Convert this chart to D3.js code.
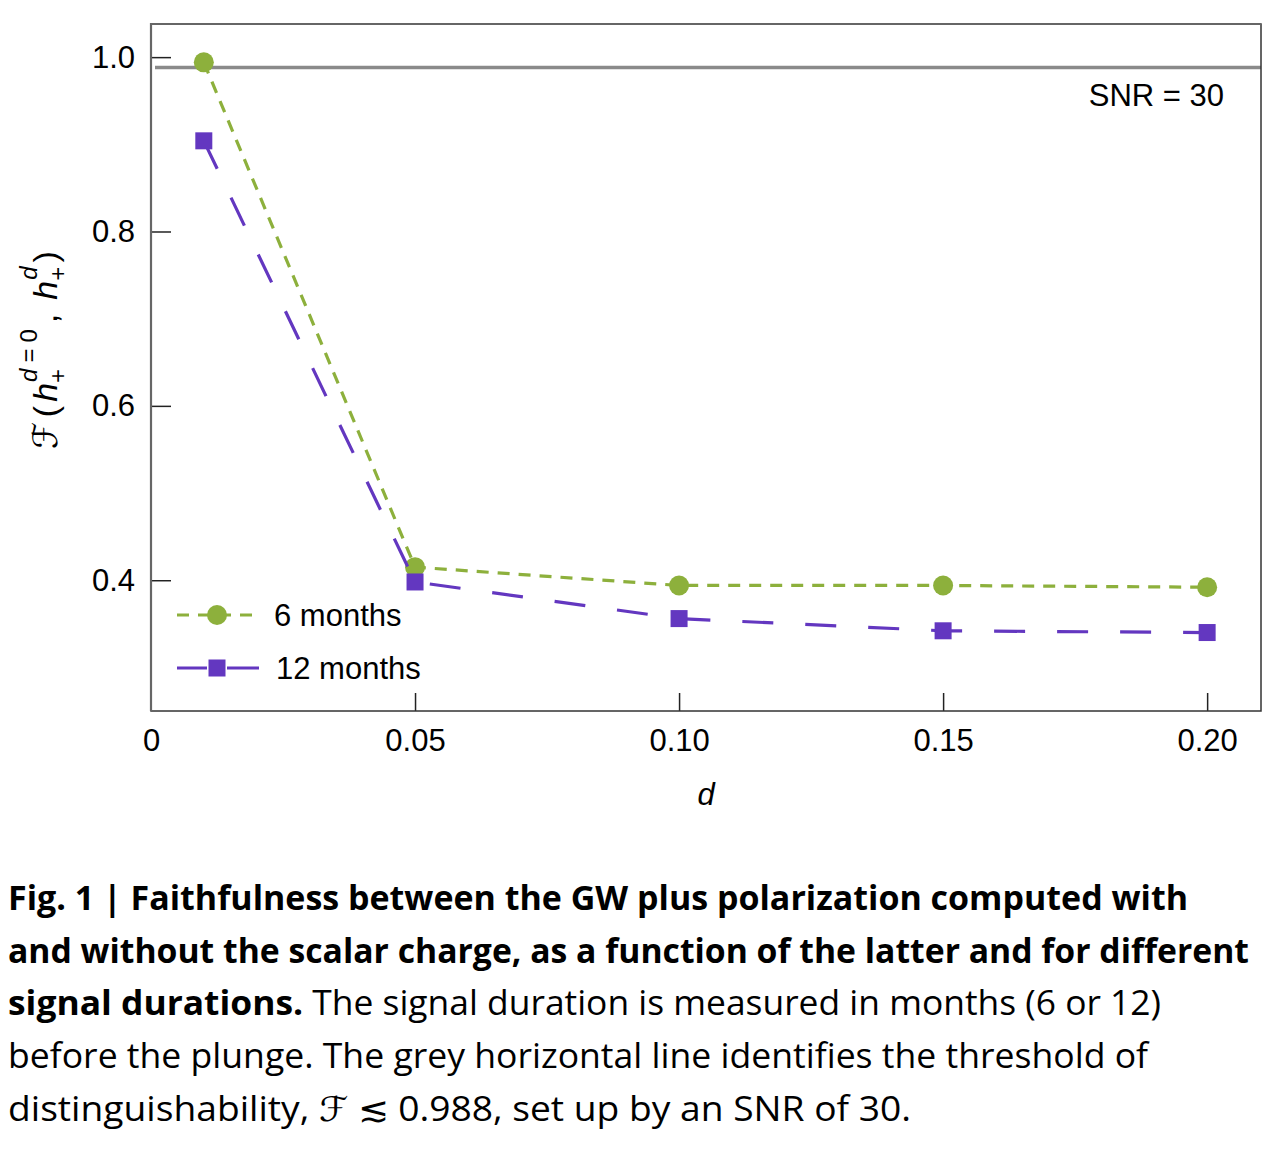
<!DOCTYPE html>
<html>
<head>
<meta charset="utf-8">
<script src="https://cdn.jsdelivr.net/npm/d3@7"></script>
<style>
  body { margin: 0; background: #fff; }
  svg { display: block; }
</style>
</head>
<body>
<div id="app"></div>
<script>
const durations = ["6 months", "12 months"];
const dValues = [0.01, 0.05, 0.10, 0.15, 0.20];
const faith6 = [0.994, 0.415, 0.394, 0.394, 0.392];
const faith12 = [0.904, 0.398, 0.356, 0.342, 0.340];
const threshold = 0.988;
const xTicks = [0, 0.05, 0.10, 0.15, 0.20];
const xTickLabels = ["0", "0.05", "0.10", "0.15", "0.20"];
const yTicks = [0.4, 0.6, 0.8, 1.0];

const width = 1278, height = 1160;
const plotLeft = 151, plotRight = 1261, plotTop = 24, plotBottom = 711;
const green = "#8db03c", purple = "#6337c0";
const axisFont = "'Liberation Sans', Arial, Helvetica, sans-serif";
const axisSize = 31;

const svg = d3.create("svg")
  .attr("width", width)
  .attr("height", height)
  .attr("viewBox", [0, 0, width, height]);

const x = d3.scaleLinear().domain([0, 0.2102]).range([plotLeft, plotRight]);
const y = d3.scaleLinear().domain([0.25, 1.038]).range([plotBottom, plotTop]);

// threshold line
svg.append("line")
  .attr("x1", plotLeft + 4).attr("x2", plotRight)
  .attr("y1", y(threshold)).attr("y2", y(threshold))
  .attr("stroke", "#8a8a8a").attr("stroke-width", 3.5);

// axes
const xAxis = svg.append("g")
  .attr("transform", `translate(0,${plotBottom})`)
  .call(d3.axisBottom(x).tickValues(xTicks).tickFormat((d, i) => xTickLabels[i])
    .tickSize(-18).tickPadding(18));
xAxis.select(".domain").remove();
xAxis.selectAll(".tick line").filter(d => d === 0).remove();
xAxis.selectAll("text").attr("font-size", axisSize).attr("font-family", axisFont).attr("fill", "#000");

const yAxis = svg.append("g")
  .attr("transform", `translate(${plotLeft},0)`)
  .call(d3.axisLeft(y).tickValues(yTicks).tickFormat(d3.format(".1f"))
    .tickSize(-20).tickPadding(16));
yAxis.select(".domain").remove();
yAxis.selectAll("text").attr("font-size", axisSize).attr("font-family", axisFont).attr("fill", "#000");
svg.selectAll(".tick line").attr("stroke", "#222").attr("stroke-width", 1.5);

// frame
svg.append("rect")
  .attr("x", plotLeft).attr("y", plotTop)
  .attr("width", plotRight - plotLeft).attr("height", plotBottom - plotTop)
  .attr("fill", "none").attr("stroke", "#333").attr("stroke-width", 1.5);
svg.append("path")
  .attr("d", `M${plotLeft},${plotBottom}V${plotTop}H${plotRight}`)
  .attr("fill", "none").attr("stroke", "#666").attr("stroke-width", 2.2);

// series
const line = d3.line().x(d => x(d[0])).y(d => y(d[1]));
const series = [
  { name: durations[0], values: faith6, color: green, dash: "12,9", shape: "circle" },
  { name: durations[1], values: faith12, color: purple, dash: "31,32", shape: "square" }
];

function marker(g, s, cx, cy) {
  if (s.shape === "circle") {
    g.append("circle").attr("cx", cx).attr("cy", cy).attr("r", 10).attr("fill", s.color);
  } else {
    g.append("rect").attr("x", cx - 8.5).attr("y", cy - 8.5)
      .attr("width", 17).attr("height", 17).attr("fill", s.color);
  }
}

series.forEach(s => {
  const pts = dValues.map((d, i) => [d, s.values[i]]);
  svg.append("path")
    .attr("d", line(pts))
    .attr("fill", "none")
    .attr("stroke", s.color)
    .attr("stroke-width", 3.2)
    .attr("stroke-dasharray", s.dash);
  const g = svg.append("g");
  pts.forEach(p => marker(g, s, x(p[0]), y(p[1])));
});

// legend
series.forEach((s, i) => {
  const ly = 615 + i * 53;
  const g = svg.append("g");
  g.append("line")
    .attr("x1", 177).attr("x2", 259).attr("y1", ly).attr("y2", ly)
    .attr("stroke", s.color).attr("stroke-width", 3.2)
    .attr("stroke-dasharray", i === 0 ? "12,9" : "30,20,32");
  marker(g, s, 217, ly);
  g.append("text")
    .attr("x", 274 + i * 2).attr("y", ly + 11)
    .attr("font-family", axisFont).attr("font-size", axisSize)
    .text(s.name);
});

svg.append("text")
  .attr("x", 1224).attr("y", 106)
  .attr("text-anchor", "end")
  .attr("font-family", axisFont).attr("font-size", axisSize)
  .text("SNR = 30");

// x label
svg.append("text")
  .attr("x", 706).attr("y", 805)
  .attr("text-anchor", "middle")
  .attr("font-family", axisFont).attr("font-size", axisSize)
  .attr("font-style", "italic")
  .text("d");

// y label
const yl = svg.append("text")
  .attr("transform", "translate(57,350) rotate(-90)")
  .attr("text-anchor", "middle")
  .attr("font-family", axisFont).attr("font-size", 34);
yl.append("tspan").attr("font-family", "'DejaVu Sans', sans-serif").attr("font-style", "italic").text("ℱ");
yl.append("tspan").attr("dx", 5).text("(");
yl.append("tspan").attr("font-style", "italic").attr("dx", 4).text("h");
yl.append("tspan").attr("font-size", 24).attr("dy", 9).text("+");
yl.append("tspan").attr("font-size", 24).attr("font-style", "italic").attr("dx", -13).attr("dy", -29).text("d");
yl.append("tspan").attr("font-size", 24).attr("dx", 6).text("=");
yl.append("tspan").attr("font-size", 24).attr("dx", 6).text("0");
yl.append("tspan").attr("dy", 20).attr("dx", 6).text(",");
yl.append("tspan").attr("font-style", "italic").attr("dx", 14).text("h");
yl.append("tspan").attr("font-size", 24).attr("dy", 9).text("+");
yl.append("tspan").attr("font-size", 24).attr("font-style", "italic").attr("dx", -13).attr("dy", -29).text("d");
yl.append("tspan").attr("dy", 20).attr("dx", 4).text(")");

// caption
const capFont = "'Open Sans', 'Noto Sans', sans-serif";
const captionLines = [
  { parts: [["Fig. 1 | Faithfulness between the GW plus polarization computed with", true]], w: 1180 },
  { parts: [["and without the scalar charge, as a function of the latter and for different", true]], w: 1241 },
  { parts: [["signal durations.", true], [" The signal duration is measured in months (6 or 12)", false]], w: 1153 },
  { parts: [["before the plunge. The grey horizontal line identifies the threshold of", false]], w: 1140 },
  { parts: [["distinguishability, ", false], ["ℱ", "f"], [" ≲ 0.988, set up by an SNR of 30.", false]], w: 903 }
];
captionLines.forEach((ln, i) => {
  const t = svg.append("text")
    .attr("x", 8).attr("y", 910 + i * 52.7)
    .attr("font-family", capFont).attr("font-size", 34)
    .attr("textLength", ln.w).attr("lengthAdjust", "spacingAndGlyphs");
  ln.parts.forEach(([txt, b]) => {
    const ts = t.append("tspan").text(txt);
    if (b === true) ts.attr("font-weight", 700);
    if (b === "f") ts.attr("font-family", "'DejaVu Sans', sans-serif").attr("font-style", "italic");
  });
});

document.getElementById("app").append(svg.node());
</script>
</body>
</html>
